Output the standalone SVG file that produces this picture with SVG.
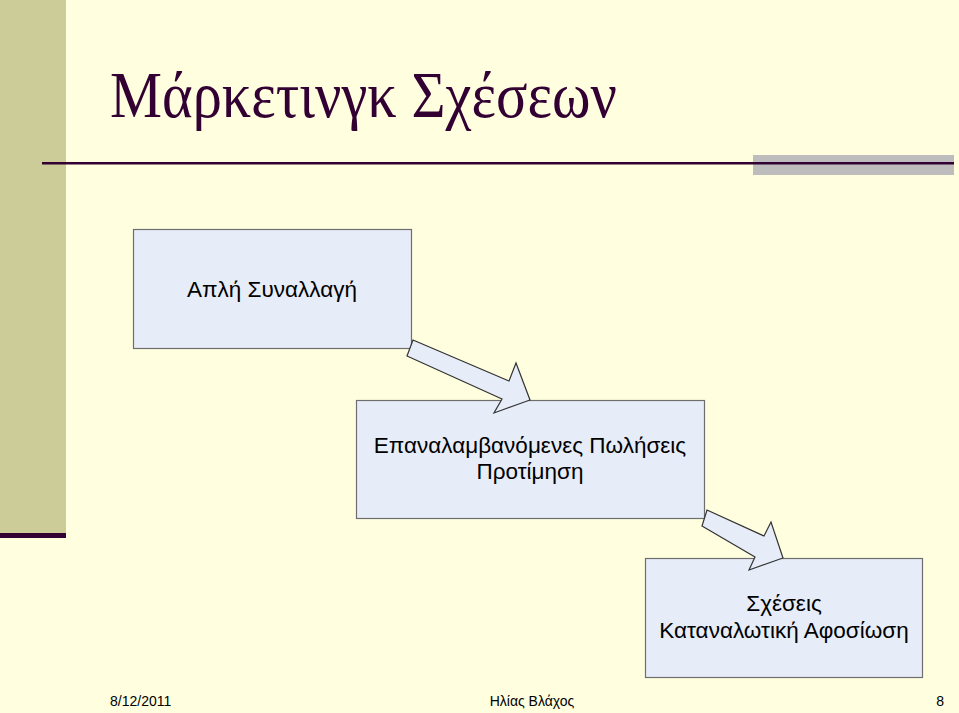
<svg xmlns="http://www.w3.org/2000/svg" width="959" height="713" viewBox="0 0 959 713">
<style>
.box{fill:#E6ECF8;stroke:#6E6E6E;stroke-width:1.2}
.arr{fill:#E6ECF8;stroke:#333333;stroke-width:1.2;stroke-linejoin:miter}
.t{font-family:"Liberation Sans",Arial,sans-serif;font-size:22.5px;fill:#000;text-anchor:middle}
.f{font-family:"Liberation Sans",Arial,sans-serif;font-size:14px;fill:#000}
</style>
<rect x="0" y="0" width="959" height="713" fill="#FFFFE0"/>
<rect x="0" y="0" width="66" height="533" fill="#CCCC99"/>
<rect x="0" y="533" width="66" height="5" fill="#330033"/>
<rect x="753" y="155" width="201" height="20" fill="#BDBDBD"/>
<rect x="42" y="162" width="912" height="2.5" fill="#330033"/>
<text x="110" y="117" font-family="'Liberation Serif','Times New Roman',serif" font-size="66" fill="#330033" textLength="507" lengthAdjust="spacingAndGlyphs">Μάρκετινγκ Σχέσεων</text>
<g id="node1">
<rect class="box" x="133.5" y="229.5" width="278" height="119"/>
<text class="t" x="272" y="297">Απλή Συναλλαγή</text>
</g>
<g id="node2">
<rect class="box" x="356.5" y="400.5" width="348" height="118"/>
<text class="t" x="530" y="453">Επαναλαμβανόμενες Πωλήσεις</text>
<text class="t" x="530" y="479">Προτίμηση</text>
</g>
<g id="node3">
<rect class="box" x="645.5" y="558.5" width="277" height="119"/>
<text class="t" x="784" y="611">Σχέσεις</text>
<text class="t" x="784" y="638">Καταναλωτική Αφοσίωση</text>
</g>
<g id="connectors">
<polygon class="arr" points="413,340 509,381 516,363 530,400 494,413 502,399 407,356"/>
<polygon class="arr" points="707,510 764,536 771,522 783,558 749,570 755,557 702,526"/>
</g>
<text class="f" x="110" y="706">8/12/2011</text>
<text class="f" x="532" y="706" text-anchor="middle">Ηλίας Βλάχος</text>
<text class="f" x="944" y="706" text-anchor="end">8</text>
</svg>
